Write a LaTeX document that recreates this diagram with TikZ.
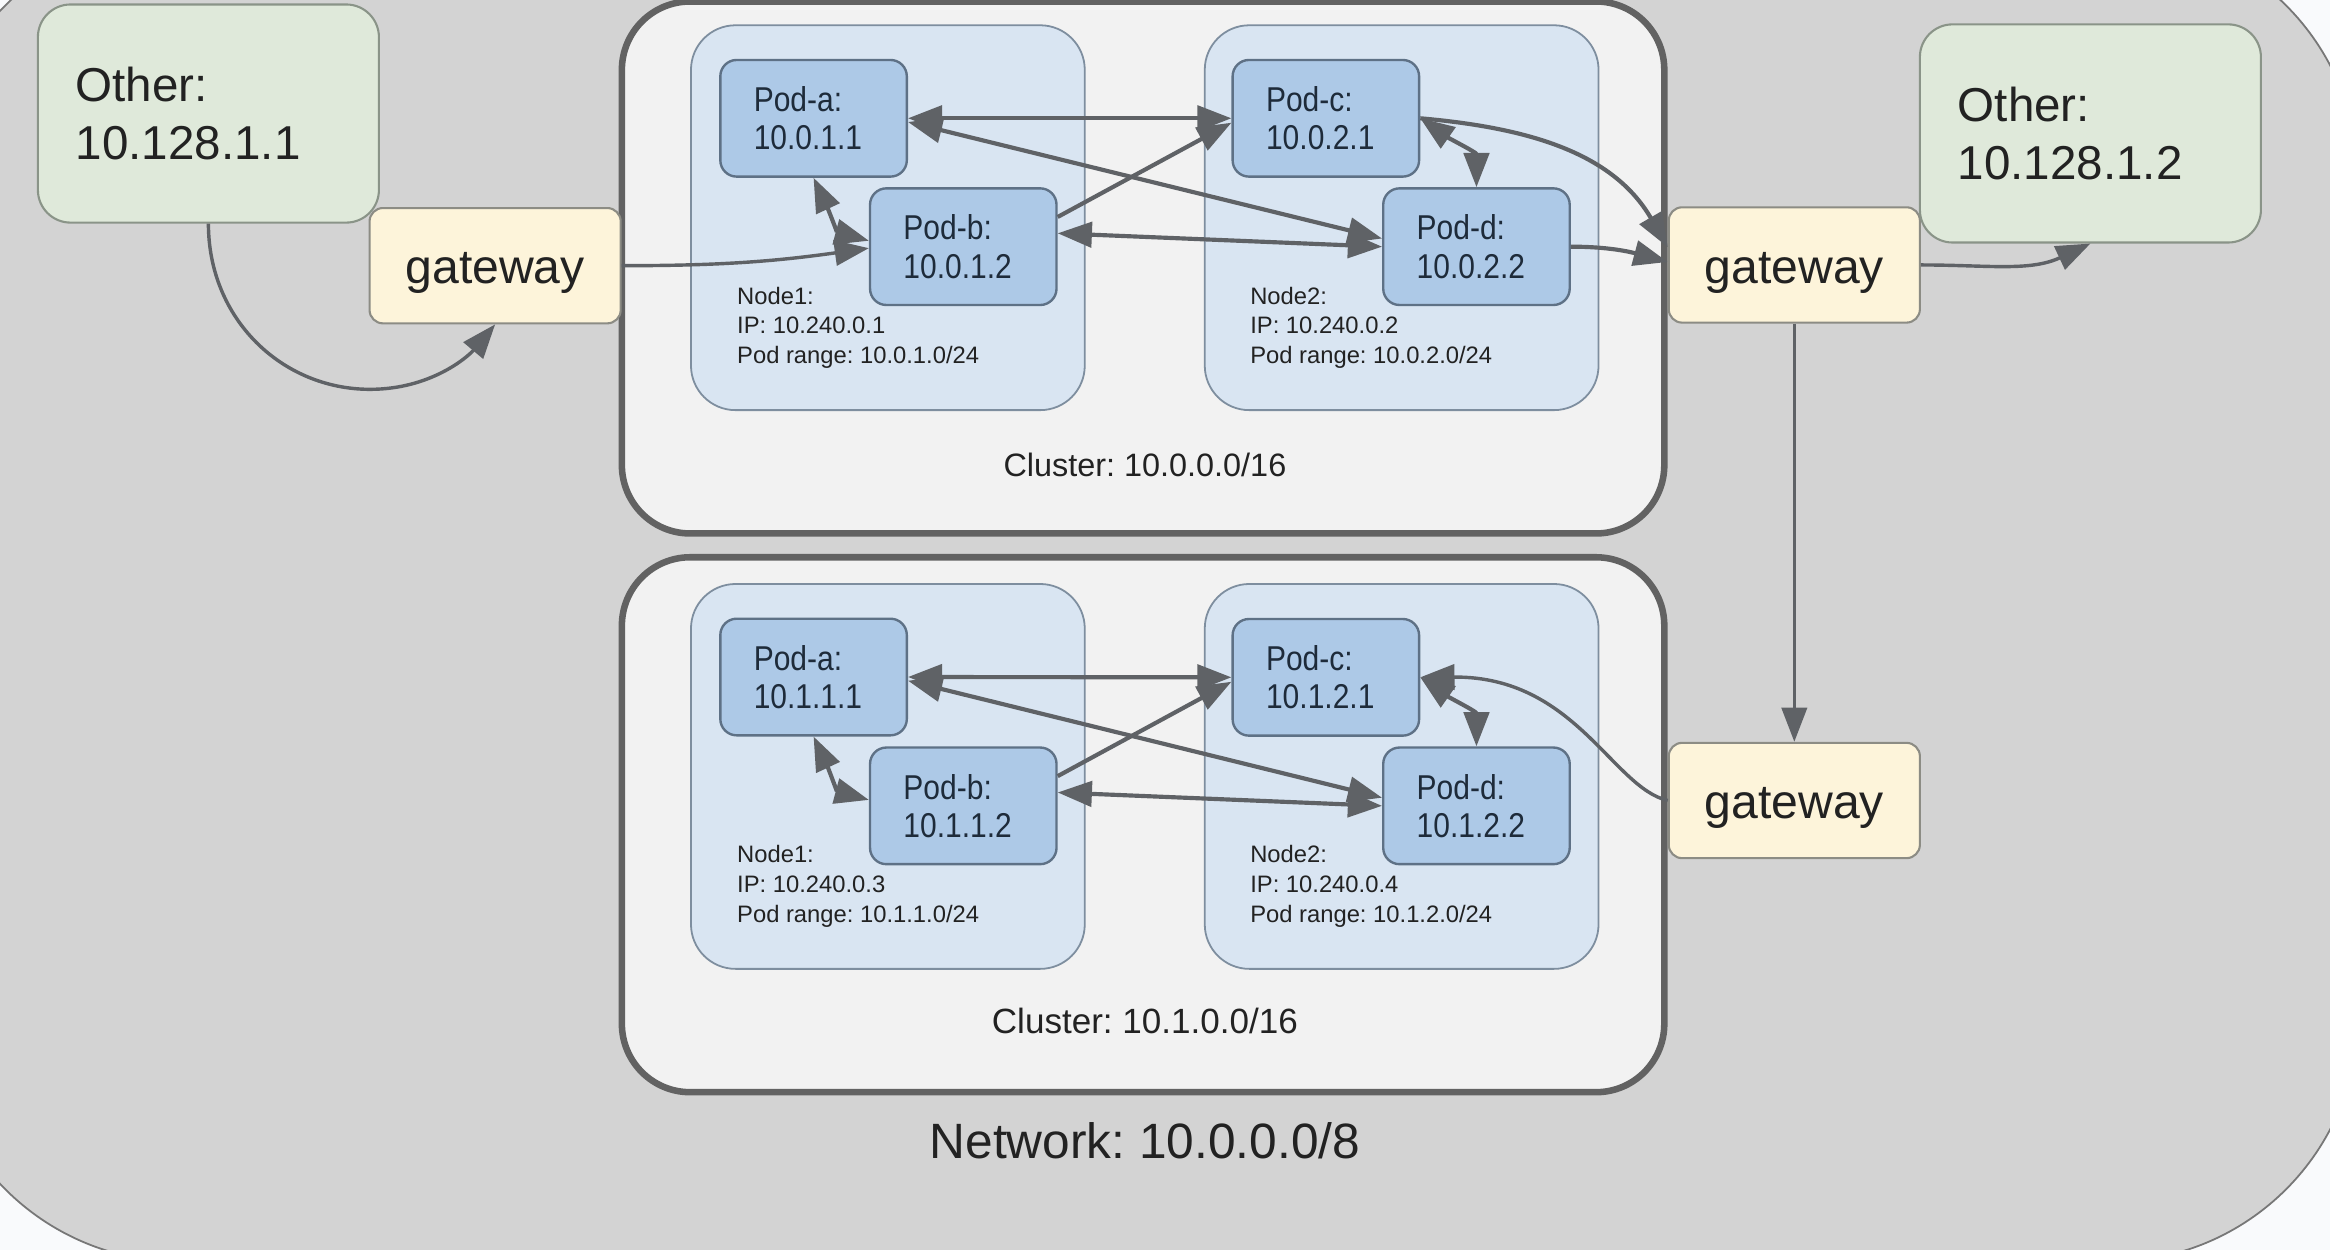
\documentclass[tikz,border=0pt]{standalone}
\usepackage{fontspec}
\setmainfont{Liberation Sans}
\newfontfamily\podfont{Liberation Sans}[FakeStretch=0.87]
\usetikzlibrary{arrows.meta,calc}
\frenchspacing
\definecolor{bgwhite}{HTML}{F9FAFC}
\definecolor{netfill}{HTML}{D3D3D3}
\definecolor{netline}{HTML}{777777}
\definecolor{clfill}{HTML}{F2F2F2}
\definecolor{clline}{HTML}{626262}
\definecolor{nodefill}{HTML}{D9E5F2}
\definecolor{nodeline}{HTML}{7E8E9F}
\definecolor{podfill}{HTML}{ADC9E7}
\definecolor{podline}{HTML}{5E7186}
\definecolor{podtext}{HTML}{1E2B3A}
\definecolor{gwfill}{HTML}{FDF4DA}
\definecolor{gwline}{HTML}{8C8C84}
\definecolor{othfill}{HTML}{DFE9DA}
\definecolor{othline}{HTML}{8A9488}
\definecolor{arr}{HTML}{5F6266}
\definecolor{txt}{HTML}{222222}
\tikzset{
  network/.style={draw=netline, line width=0.6pt, fill=netfill, rounded corners=83pt,
    minimum width=816pt, minimum height=447pt, inner sep=0},
  cluster/.style={draw=clline, line width=2.2pt, fill=clfill, rounded corners=23pt,
    minimum width=350.75pt, inner sep=0},
  nodebox/.style={draw=nodeline, line width=0.6pt, fill=nodefill, rounded corners=15pt,
    minimum width=132.5pt, minimum height=129.5pt, inner sep=0},
  pod/.style={draw=podline, line width=0.8pt, fill=podfill, rounded corners=5.5pt,
    minimum height=39.25pt, text width=40.25pt, inner xsep=11.25pt, inner ysep=0,
    align=left, text=podtext, font={\podfont\fontsize{11.6}{12.9}\selectfont}},
  nodetext/.style={anchor=north west, inner sep=0, align=left, text=txt,
    font={\fontsize{8}{10}\selectfont}},
  gw/.style={draw=gwline, line width=0.7pt, fill=gwfill, rounded corners=4.5pt,
    minimum width=84.5pt, minimum height=38.8pt, inner sep=0, text=txt,
    text height=12.2pt, text depth=0pt,
    font={\fontsize{16.2}{19}\selectfont}},
  other/.style={draw=othline, line width=0.7pt, fill=othfill, rounded corners=11pt,
    minimum height=73.4pt, text width=89.25pt, inner xsep=12.75pt, inner ysep=0,
    align=left, text=txt, font={\fontsize{16}{19.65}\selectfont}},
  lbl/.style={inner sep=0, text=txt},
  tip/.tip={Triangle[length=11.5pt,width=8.5pt]},
  podarrow/.style={draw=arr, line width=1.4pt, -tip},
  podbi/.style={draw=arr, line width=1.4pt, tip-tip},
  gwarrow/.style={draw=arr, line width=1.15pt, -tip}
}
\begin{document}
\begin{tikzpicture}[x=0.5pt,y=-0.5pt]
\useasboundingbox (0,0) rectangle (1568,841);
\fill[bgwhite] (0,0) rectangle (1568,841);
\node[network] (net) at (771,402) {};
\node[lbl, font={\fontsize{16.7}{20}\selectfont}] (netlbl) at (770.5,768) {Network: 10.0.0.0/8};

% clusters
\node[cluster, minimum height=179pt] (cl1) at (769.25,180) {};
\node[cluster, minimum height=180pt] (cl2) at (769.25,555) {};
\node[lbl, font={\fontsize{10.9}{13}\selectfont}] (cl1lbl) at (770.5,313) {Cluster: 10.0.0.0/16};
\node[lbl, font={\fontsize{11.8}{14}\selectfont}] (cl2lbl) at (770.5,687) {Cluster: 10.1.0.0/16};

% node boxes
\node[nodebox] (n11) at (597.5,146.5) {};
\node[nodebox] (n12) at (943.25,146.5) {};
\node[nodebox] (n21) at (597.5,522.5) {};
\node[nodebox] (n22) at (943.25,522.5) {};
\node[nodetext] (n11t) at (495.7,192.7) {Node1:\\IP: 10.240.0.1\\Pod range: 10.0.1.0/24};
\node[nodetext] (n12t) at (841,192.7) {Node2:\\IP: 10.240.0.2\\Pod range: 10.0.2.0/24};
\node[nodetext] (n21t) at (495.7,568.7) {Node1:\\IP: 10.240.0.3\\Pod range: 10.1.1.0/24};
\node[nodetext] (n22t) at (841,568.7) {Node2:\\IP: 10.240.0.4\\Pod range: 10.1.2.0/24};

% pods
\node[pod] (pa1) at (547.5,79.6) {Pod-a:\\10.0.1.1};
\node[pod] (pb1) at (648.25,166) {Pod-b:\\10.0.1.2};
\node[pod] (pc1) at (892.25,79.6) {Pod-c:\\10.0.2.1};
\node[pod] (pd1) at (993.6,166) {Pod-d:\\10.0.2.2};
\node[pod] (pa2) at (547.5,455.6) {Pod-a:\\10.1.1.1};
\node[pod] (pb2) at (648.25,542.3) {Pod-b:\\10.1.1.2};
\node[pod] (pc2) at (892.25,455.8) {Pod-c:\\10.1.2.1};
\node[pod] (pd2) at (993.6,542.3) {Pod-d:\\10.1.2.2};

% gateways and others
\node[gw] (gw1) at (333.2,178.8) {gateway};
\node[gw] (gw2) at (1207.5,178.3) {gateway};
\node[gw] (gw3) at (1207.5,538.7) {gateway};
\node[other] (o1) at (140.25,76.4) {Other:\\10.128.1.1};
\node[other] (o2) at (1406.75,89.8) {Other:\\10.128.1.2};

% top cluster connectors
\draw[podbi] (pa1.east) -- (pc1.west);
\draw[podbi] ($(pa1.east)+(0,2.5)$) -- ($(pd1.west)+(0,-5.5)$);
\draw[podarrow] ($(pb1.east)+(0,-20)$) -- ($(pc1.west)+(0,3)$);
\draw[podbi] ($(pb1.east)+(0,-9)$) -- (pd1.west);
\draw[podbi] (pa1.south) to[out=-65,in=165] ($(pb1.west)+(0,-4)$);
\draw[podbi] (pc1.east) to[out=-35,in=90] (pd1.north);
\draw[podarrow] (pc1.east) .. controls (1028.6,86) and (1085.5,102.8) .. ($(gw2.west)+(0,-12)$);
\draw[podarrow] (pd1.east) to[out=0,in=165] ($(gw2.west)+(0,-2)$);
\draw[gwarrow] (gw1.east) to[out=0,in=188] ($(pb1.west)+(0,1)$);

% bottom cluster connectors
\draw[podbi] (pa2.east) -- (pc2.west);
\draw[podbi] ($(pa2.east)+(0,2.5)$) -- ($(pd2.west)+(0,-5.5)$);
\draw[podarrow] ($(pb2.east)+(0,-20)$) -- ($(pc2.west)+(0,3)$);
\draw[podbi] ($(pb2.east)+(0,-9)$) -- (pd2.west);
\draw[podbi] (pa2.south) to[out=-65,in=165] ($(pb2.west)+(0,-4)$);
\draw[podbi] (pc2.east) to[out=-35,in=90] (pd2.north);
\draw[gwarrow] (gw3.west) .. controls (1085,530) and (1060,455) .. (pc2.east);

% gateway connectors
\draw[gwarrow] (o1.south) .. controls (140.25,215) and (190,262) .. (249,262)
  .. controls (290,262) and (315,240) .. (gw1.south);
\draw[gwarrow] (gw2.east) to[out=0,in=-155] (o2.south);
\draw[gwarrow] (gw2.south) -- (gw3.north);
\end{tikzpicture}
\end{document}
